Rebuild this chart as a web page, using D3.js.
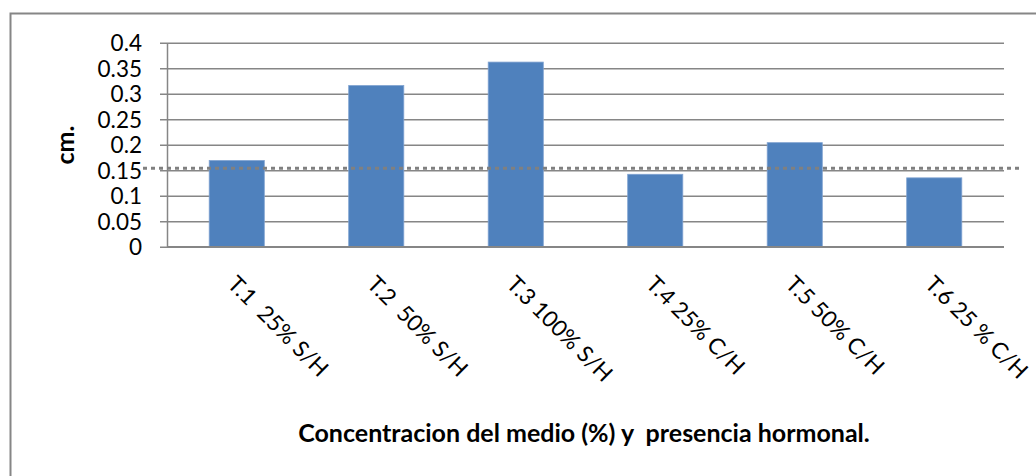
<!DOCTYPE html>
<html>
<head>
<meta charset="utf-8">
<script src="https://cdn.jsdelivr.net/npm/d3@7"></script>
<style>
  html, body { margin: 0; padding: 0; background: #fff; }
  svg { display: block; }
  text { font-family: Lato, "Open Sans", sans-serif; fill: #000; }
</style>
</head>
<body>
<svg id="chart" width="1036" height="476"></svg>
<script>
// Treatments and mean growth (cm)
const categories = ["T.1  25% S/H", "T.2  50% S/H", "T.3 100% S/H", "T.4 25% C/H", "T.5 50% C/H", "T.6 25 % C/H"];
const values = [0.169, 0.316, 0.362, 0.142, 0.204, 0.135];
const referenceLevel = 0.154;
const yTicks = [0, 0.05, 0.1, 0.15, 0.2, 0.25, 0.3, 0.35, 0.4];
const yTitle = "cm.";
const xTitle = "Concentracion del medio (%) y  presencia hormonal.";

const svg = d3.select("#chart");

// chart frame (right and bottom edges fall outside the canvas)
svg.append("rect")
  .attr("x", 10.5).attr("y", 13.5)
  .attr("width", 1100).attr("height", 600)
  .attr("fill", "#fff").attr("stroke", "#868686").attr("stroke-width", 2);

const plot = { left: 167, right: 1004, top: 42.7, bottom: 246.7 };

const x = d3.scaleBand()
  .domain(categories)
  .range([plot.left, plot.right])
  .paddingInner(0.605)
  .paddingOuter(0.3025);

const y = d3.scaleLinear()
  .domain([0, 0.4])
  .range([plot.bottom, plot.top]);

// horizontal gridlines and y axis
const yAxis = d3.axisLeft(y)
  .tickValues(yTicks)
  .tickFormat(d => d3.format("")(+d.toFixed(2)))
  .tickSize(-(plot.right - plot.left))
  .tickSizeOuter(0)
  .tickPadding(24);

const gy = svg.append("g")
  .attr("transform", `translate(${plot.left},0)`)
  .call(yAxis);
gy.select(".domain").attr("stroke", "#868686").attr("stroke-width", 1.5);
gy.selectAll(".tick line")
  .attr("stroke", "#868686").attr("stroke-width", 1.5)
  .attr("x1", -7);
gy.selectAll(".tick text")
  .attr("font-size", 22.5)
  .attr("font-family", "Lato, sans-serif")
  .attr("fill", "#000")
  .attr("x", -25)
  .attr("dy", "0.36em");

// bars
svg.append("g")
  .selectAll("rect")
  .data(values)
  .join("rect")
  .attr("x", (d, i) => x(categories[i]))
  .attr("y", d => y(d))
  .attr("width", x.bandwidth())
  .attr("height", d => y(0) - y(d))
  .attr("fill", "#4F81BD")
  .attr("stroke", "#7fa2d0")
  .attr("stroke-width", 0.8);

// bottom axis line drawn above the bars
svg.append("line")
  .attr("x1", plot.left).attr("x2", plot.right)
  .attr("y1", y(0)).attr("y2", y(0))
  .attr("stroke", "#868686").attr("stroke-width", 1.5);

// dotted reference line
svg.append("line")
  .attr("x1", 143).attr("x2", 1020)
  .attr("y1", y(referenceLevel)).attr("y2", y(referenceLevel))
  .attr("stroke", "#808080")
  .attr("stroke-width", 3)
  .attr("stroke-dasharray", "4,4");

// category labels, rotated 45 degrees
svg.append("g")
  .selectAll("text")
  .data(categories)
  .join("text")
  .attr("transform", d => `translate(${x(d) + x.bandwidth() / 2 + 1},274) rotate(45)`)
  .attr("dy", "0.72em")
  .attr("font-size", 22.5)
  .style("white-space", "pre")
  .text(d => d);

// axis titles
svg.append("text")
  .attr("transform", "translate(74,145) rotate(-90)")
  .attr("text-anchor", "middle")
  .attr("font-size", 25)
  .attr("font-weight", "bold")
  .text(yTitle);

svg.append("text")
  .attr("x", 584).attr("y", 442)
  .attr("text-anchor", "middle")
  .attr("font-size", 25)
  .attr("font-weight", "bold")
  .style("white-space", "pre")
  .text(xTitle);
</script>
</body>
</html>
